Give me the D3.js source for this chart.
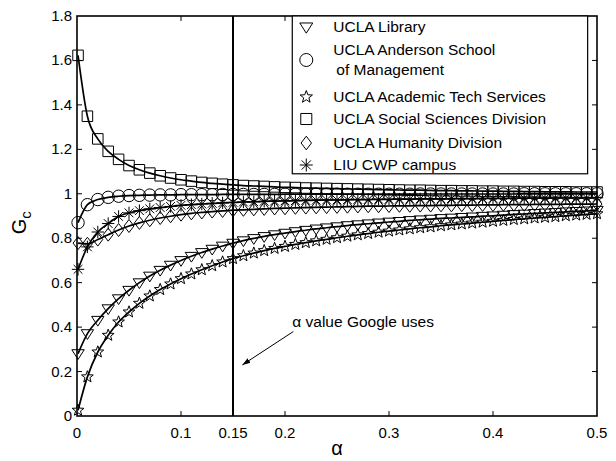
<!DOCTYPE html>
<html>
<head>
<meta charset="utf-8">
<title>Gc vs alpha</title>
<script src="https://d3js.org/d3.v7.min.js"></script>
<style>
  body { margin: 0; background: #fff; }
  text { font-family: "Liberation Sans", Arial, Helvetica, sans-serif; fill: #000; }
</style>
</head>
<body>
<div id="chart"></div>
<script>
// alpha values where the markers sit
var alpha = [0.001, 0.01, 0.02, 0.03, 0.04, 0.05, 0.06, 0.07, 0.08, 0.09,
  0.10, 0.11, 0.12, 0.13, 0.14, 0.15, 0.16, 0.17, 0.18, 0.19,
  0.20, 0.21, 0.22, 0.23, 0.24, 0.25, 0.26, 0.27, 0.28, 0.29,
  0.30, 0.31, 0.32, 0.33, 0.34, 0.35, 0.36, 0.37, 0.38, 0.39,
  0.40, 0.41, 0.42, 0.43, 0.44, 0.45, 0.46, 0.47, 0.48, 0.49, 0.50];

// Gc
var library = [0.281, 0.371, 0.431, 0.483, 0.528, 0.566, 0.600, 0.630, 0.656, 0.679,
  0.700, 0.719, 0.736, 0.751, 0.765, 0.778, 0.789, 0.799, 0.808, 0.816,
  0.823, 0.830, 0.836, 0.842, 0.847, 0.852, 0.857, 0.861, 0.865, 0.869,
  0.873, 0.876, 0.880, 0.883, 0.886, 0.889, 0.891, 0.894, 0.896, 0.899,
  0.901, 0.904, 0.907, 0.909, 0.912, 0.914, 0.916, 0.919, 0.921, 0.923, 0.926];

var anderson = [0.870, 0.951, 0.974, 0.984, 0.989, 0.992, 0.993, 0.994, 0.995, 0.995,
  0.996, 0.996, 0.996, 0.996, 0.997, 0.997, 0.997, 0.997, 0.997, 0.997,
  0.998, 0.998, 0.998, 0.998, 0.998, 0.998, 0.998, 0.998, 0.998, 0.998,
  0.998, 0.998, 0.998, 0.999, 0.999, 0.999, 0.999, 0.999, 0.999, 0.999,
  0.999, 0.999, 0.999, 1.000, 1.000, 1.000, 1.000, 1.000, 1.000, 1.000, 1.000];

var academic = [0.026, 0.176, 0.288, 0.363, 0.423, 0.468, 0.507, 0.540, 0.569, 0.594,
  0.618, 0.639, 0.658, 0.676, 0.693, 0.708, 0.721, 0.733, 0.744, 0.754,
  0.763, 0.772, 0.780, 0.788, 0.795, 0.802, 0.809, 0.815, 0.821, 0.827,
  0.832, 0.837, 0.842, 0.847, 0.851, 0.856, 0.860, 0.864, 0.868, 0.872,
  0.876, 0.880, 0.884, 0.887, 0.891, 0.894, 0.897, 0.901, 0.904, 0.907, 0.910];

var social = [1.623, 1.349, 1.247, 1.191, 1.155, 1.127, 1.108, 1.093, 1.081, 1.071,
  1.063, 1.057, 1.051, 1.047, 1.043, 1.040, 1.037, 1.035, 1.033, 1.031,
  1.029, 1.028, 1.026, 1.025, 1.024, 1.023, 1.022, 1.021, 1.020, 1.019,
  1.018, 1.017, 1.016, 1.016, 1.015, 1.014, 1.014, 1.013, 1.013, 1.012,
  1.012, 1.011, 1.011, 1.010, 1.010, 1.009, 1.009, 1.009, 1.008, 1.008, 1.008];

var humanity = [0.778, 0.775, 0.794, 0.816, 0.837, 0.855, 0.869, 0.881, 0.891, 0.899,
  0.906, 0.912, 0.916, 0.920, 0.923, 0.926, 0.928, 0.930, 0.932, 0.934,
  0.935, 0.937, 0.938, 0.939, 0.940, 0.941, 0.942, 0.943, 0.944, 0.944,
  0.945, 0.946, 0.946, 0.947, 0.947, 0.948, 0.948, 0.949, 0.949, 0.950,
  0.950, 0.951, 0.951, 0.951, 0.952, 0.952, 0.952, 0.953, 0.953, 0.953, 0.954];

var liu = [0.660, 0.761, 0.828, 0.866, 0.898, 0.914, 0.924, 0.932, 0.938, 0.943,
  0.948, 0.951, 0.954, 0.957, 0.959, 0.961, 0.963, 0.964, 0.966, 0.967,
  0.968, 0.969, 0.970, 0.971, 0.972, 0.972, 0.973, 0.974, 0.974, 0.975,
  0.975, 0.976, 0.976, 0.977, 0.977, 0.977, 0.978, 0.978, 0.978, 0.979,
  0.979, 0.979, 0.980, 0.980, 0.980, 0.980, 0.981, 0.981, 0.981, 0.981, 0.982];

var seriesNames = ["UCLA Library", "UCLA Anderson School|of Management", "UCLA Academic Tech Services",
  "UCLA Social Sciences Division", "UCLA Humanity Division", "LIU CWP campus"];
var seriesMarkers = ["triangle", "circle", "star", "square", "diamond", "asterisk"];
var seriesValues = [library, anderson, academic, social, humanity, liu];

var xTicks = [0, 0.1, 0.15, 0.2, 0.3, 0.4, 0.5];
var yTicks = [0, 0.2, 0.4, 0.6, 0.8, 1, 1.2, 1.4, 1.6, 1.8];
var googleAlpha = 0.15;

var W = 616, H = 461;
var margin = {top: 16, right: 19, bottom: 45, left: 77},
    width = W - margin.left - margin.right,
    height = H - margin.top - margin.bottom;

var svg = d3.select("#chart").append("svg")
    .attr("width", W)
    .attr("height", H);

var g = svg.append("g")
    .attr("transform", "translate(" + margin.left + "," + margin.top + ")");

var x = d3.scaleLinear().domain([0, 0.5]).range([0, width]);
var y = d3.scaleLinear().domain([0, 1.8]).range([height, 0]);

// marker shapes, centred on 0,0
function markerPath(type, s) {
  var p = d3.path();
  if (type == "triangle") {
    p.moveTo(-s, -s * 0.62); p.lineTo(s, -s * 0.62); p.lineTo(0, s * 0.95); p.closePath();
  } else if (type == "circle") {
    p.moveTo(s, 0); p.arc(0, 0, s, 0, 2 * Math.PI);
  } else if (type == "square") {
    p.rect(-s * 0.85, -s * 0.85, s * 1.7, s * 1.7);
  } else if (type == "diamond") {
    p.moveTo(0, -s * 1.05); p.lineTo(s * 0.8, 0); p.lineTo(0, s * 1.05); p.lineTo(-s * 0.8, 0); p.closePath();
  } else if (type == "star") {
    for (var i = 0; i < 10; i++) {
      var r = (i % 2 == 0) ? s : s * 0.42;
      var a = -Math.PI / 2 + i * Math.PI / 5;
      if (i == 0) p.moveTo(r * Math.cos(a), r * Math.sin(a));
      else p.lineTo(r * Math.cos(a), r * Math.sin(a));
    }
    p.closePath();
  } else if (type == "asterisk") {
    for (var k = 0; k < 4; k++) {
      var b = k * Math.PI / 4;
      p.moveTo(-s * Math.cos(b), -s * Math.sin(b));
      p.lineTo(s * Math.cos(b), s * Math.sin(b));
    }
  }
  return p.toString();
}

// axes box
g.append("rect")
    .attr("width", width)
    .attr("height", height)
    .attr("fill", "none")
    .attr("stroke", "#000")
    .attr("stroke-width", 1.6);

// inward ticks on all four sides
var tickLen = 5;
xTicks.forEach(function(t) {
  if (t == 0 || t == 0.5) return;
  g.append("line").attr("x1", x(t)).attr("x2", x(t)).attr("y1", height).attr("y2", height - tickLen)
    .attr("stroke", "#000");
  g.append("line").attr("x1", x(t)).attr("x2", x(t)).attr("y1", 0).attr("y2", tickLen)
    .attr("stroke", "#000");
});
yTicks.forEach(function(t) {
  if (t == 0 || t == 1.8) return;
  g.append("line").attr("x1", 0).attr("x2", tickLen).attr("y1", y(t)).attr("y2", y(t))
    .attr("stroke", "#000");
  g.append("line").attr("x1", width).attr("x2", width - tickLen).attr("y1", y(t)).attr("y2", y(t))
    .attr("stroke", "#000");
});

g.selectAll(".xlab").data(xTicks).enter().append("text")
    .attr("class", "xlab")
    .attr("x", function(d) { return x(d); })
    .attr("y", height + 22)
    .attr("text-anchor", "middle")
    .style("font-size", "15px")
    .text(function(d) { return d; });

g.selectAll(".ylab").data(yTicks).enter().append("text")
    .attr("class", "ylab")
    .attr("x", -5)
    .attr("y", function(d) { return y(d) + 5; })
    .attr("text-anchor", "end")
    .style("font-size", "15px")
    .text(function(d) { return d; });

// axis labels
svg.append("text")
    .attr("x", margin.left + x(0.25))
    .attr("y", 455)
    .attr("text-anchor", "middle")
    .style("font-size", "20px")
    .text("\u03b1");

var yl = svg.append("text")
    .attr("transform", "translate(26," + (margin.top + y(0.87)) + ") rotate(-90)")
    .attr("text-anchor", "middle")
    .style("font-size", "20px");
yl.append("tspan").text("G");
yl.append("tspan").attr("dy", 5).style("font-size", "15px").text("c");

// curves and markers
var line = d3.line()
    .x(function(d, i) { return x(alpha[i]); })
    .y(function(d) { return y(d); })
    .curve(d3.curveMonotoneX);

seriesValues.forEach(function(vals, si) {
  g.append("path")
      .datum(vals)
      .attr("d", line)
      .attr("fill", "none")
      .attr("stroke", "#000")
      .attr("stroke-width", 1.7);

  g.selectAll(".m" + si).data(vals).enter().append("path")
      .attr("class", "m" + si)
      .attr("transform", function(d, i) { return "translate(" + x(alpha[i]) + "," + y(d) + ")"; })
      .attr("d", markerPath(seriesMarkers[si], 6.2))
      .attr("fill", "none")
      .attr("stroke", "#000")
      .attr("stroke-width", 1);
});

// vertical line at the alpha Google uses
g.append("line")
    .attr("x1", x(googleAlpha)).attr("x2", x(googleAlpha))
    .attr("y1", 0).attr("y2", height)
    .attr("stroke", "#000")
    .attr("stroke-width", 2);

// annotation
svg.append("defs").append("marker")
    .attr("id", "arrow")
    .attr("viewBox", "0 0 10 10")
    .attr("refX", 10).attr("refY", 5)
    .attr("markerWidth", 8).attr("markerHeight", 8)
    .attr("orient", "auto")
  .append("path")
    .attr("d", "M0,1.5 L10,5 L0,8.5 Z")
    .attr("fill", "#000");

g.append("line")
    .attr("x1", x(0.208)).attr("y1", y(0.38))
    .attr("x2", x(0.159)).attr("y2", y(0.23))
    .attr("stroke", "#000")
    .attr("stroke-width", 1)
    .attr("marker-end", "url(#arrow)");

g.append("text")
    .attr("x", x(0.207))
    .attr("y", y(0.40))
    .style("font-size", "15.5px")
    .text("\u03b1 value Google uses");

// legend
var lg = g.append("g").attr("transform", "translate(" + (x(0.207)) + ",0)");
var lgW = x(0.491) - x(0.207);
lg.append("rect")
    .attr("width", lgW)
    .attr("height", y(1.09))
    .attr("fill", "#fff")
    .attr("stroke", "#000")
    .attr("stroke-width", 1.2);

var rowY = [11, 44, 81, 103, 127, 149];
seriesNames.forEach(function(name, i) {
  lg.append("path")
      .attr("transform", "translate(" + 14 + "," + rowY[i] + ")")
      .attr("d", markerPath(seriesMarkers[i], 6.5))
      .attr("fill", "none")
      .attr("stroke", "#000");
  var parts = name.split("|");
  var t = lg.append("text")
      .attr("x", 41)
      .attr("y", rowY[i] + 5 - (parts.length - 1) * 10)
      .style("font-size", "15.5px");
  parts.forEach(function(p, j) {
    t.append("tspan").attr("x", j == 0 ? 41 : 44).attr("dy", j == 0 ? 0 : 20).text(p);
  });
});
</script>
</body>
</html>
